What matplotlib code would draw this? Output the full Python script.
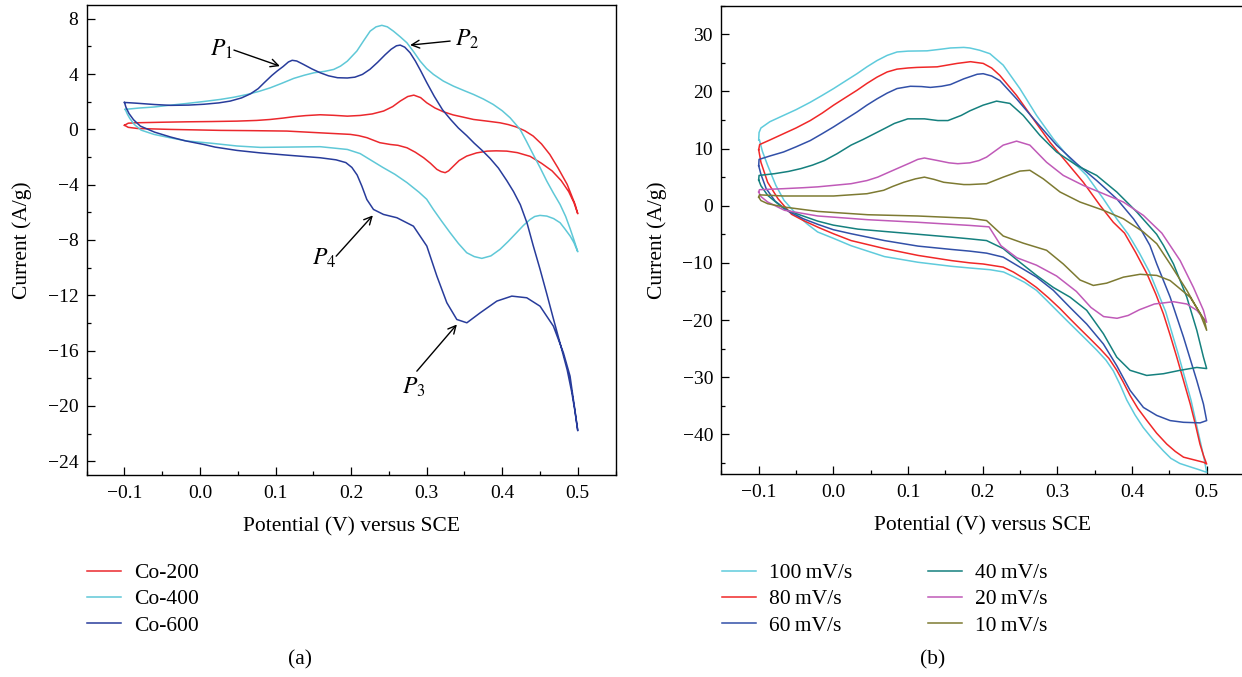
import matplotlib
matplotlib.use("Agg")
import matplotlib.pyplot as plt
from matplotlib.ticker import MultipleLocator
from matplotlib.lines import Line2D

plt.rcParams["font.family"] = ["Liberation Serif", "DejaVu Serif"]
plt.rcParams["mathtext.fontset"] = "stix"

# ---------------- panel (a): Co-200 / Co-400 / Co-600 ----------------
co200_v = [-0.100, -0.095, -0.085, -0.050, -0.017, 0.015, 0.049, 0.075, 0.093, 0.110,
           0.124, 0.140, 0.159, 0.177, 0.195, 0.212, 0.228, 0.243, 0.255, 0.265,
           0.275, 0.283, 0.292, 0.300, 0.311, 0.322, 0.335, 0.349, 0.362, 0.380,
           0.397, 0.408, 0.419, 0.430, 0.441, 0.452, 0.463, 0.474, 0.486, 0.4965, 0.500,
           0.495, 0.488, 0.478, 0.466, 0.452, 0.437, 0.420, 0.406, 0.392, 0.380,
           0.366, 0.353, 0.343, 0.3355, 0.329, 0.3245, 0.319, 0.3135, 0.305, 0.296,
           0.285, 0.274, 0.262, 0.252, 0.238, 0.228, 0.221, 0.210, 0.199, 0.160,
           0.115, 0.070, 0.027, -0.010, -0.039, -0.065, -0.083, -0.095, -0.100]
co200_i = [0.30, 0.45, 0.48, 0.52, 0.55, 0.57, 0.60, 0.65, 0.72, 0.82,
           0.92, 1.00, 1.06, 1.02, 0.96, 1.01, 1.12, 1.33, 1.65, 2.05,
           2.38, 2.48, 2.30, 1.93, 1.55, 1.28, 1.05, 0.88, 0.72, 0.60,
           0.48, 0.35, 0.17, -0.10, -0.48, -1.05, -1.81, -2.80, -3.98, -5.43, -6.10,
           -5.30, -4.50, -3.70, -3.00, -2.45, -1.95, -1.68, -1.57, -1.55, -1.57,
           -1.70, -1.93, -2.25, -2.65, -3.00, -3.13, -3.05, -2.89, -2.45, -2.05,
           -1.65, -1.33, -1.15, -1.09, -0.96, -0.75, -0.60, -0.45, -0.36, -0.25,
           -0.12, -0.09, -0.07, -0.03, 0.00, 0.04, 0.07, 0.15, 0.30]

co400_v = [-0.099, -0.080, -0.061, -0.040, -0.017, 0.005, 0.027, 0.045, 0.0625, 0.078,
           0.093, 0.108, 0.124, 0.138, 0.151, 0.165, 0.177, 0.186, 0.195, 0.2076,
           0.217, 0.2252, 0.233, 0.2407, 0.248, 0.256, 0.265, 0.2738, 0.283, 0.2914,
           0.300, 0.309, 0.322, 0.3355, 0.349, 0.362, 0.375, 0.388, 0.400, 0.4105,
           0.4237, 0.432, 0.441, 0.450, 0.459, 0.4677, 0.4766, 0.484, 0.490, 0.495, 0.500,
           0.495, 0.490, 0.483, 0.4766, 0.468, 0.459, 0.450, 0.443, 0.437, 0.428,
           0.419, 0.408, 0.397, 0.385, 0.373, 0.363, 0.353, 0.342, 0.331, 0.320,
           0.309, 0.300, 0.290, 0.274, 0.258, 0.242, 0.227, 0.212, 0.195, 0.159,
           0.115, 0.080, 0.049, 0.015, -0.017, -0.040, -0.061, -0.078, -0.087, -0.093,
           -0.096, -0.099]
co400_i = [1.45, 1.55, 1.62, 1.75, 1.88, 2.02, 2.17, 2.33, 2.53, 2.75,
           3.01, 3.33, 3.69, 3.92, 4.10, 4.20, 4.34, 4.58, 4.94, 5.67,
           6.45, 7.11, 7.42, 7.53, 7.42, 7.11, 6.70, 6.27, 5.60, 4.94,
           4.40, 3.98, 3.50, 3.13, 2.82, 2.53, 2.20, 1.81, 1.35, 0.84,
           0.00, -0.85, -1.81, -2.75, -3.74, -4.60, -5.43, -6.30, -7.20, -8.00, -8.85,
           -8.20, -7.72, -7.20, -6.75, -6.45, -6.27, -6.22, -6.30, -6.51, -6.95,
           -7.47, -8.10, -8.68, -9.15, -9.33, -9.20, -8.92, -8.25, -7.47, -6.65,
           -5.80, -5.05, -4.55, -3.85, -3.25, -2.75, -2.25, -1.75, -1.45, -1.25,
           -1.28, -1.30, -1.20, -1.00, -0.84, -0.60, -0.36, -0.05, 0.36, 0.80,
           1.09, 1.45]

co600_v = [-0.100, -0.085, -0.060, -0.039, -0.015, 0.005, 0.025, 0.040, 0.055, 0.067,
           0.077, 0.085, 0.095, 0.102, 0.110, 0.117, 0.122, 0.128, 0.137, 0.148,
           0.159, 0.170, 0.182, 0.195, 0.205, 0.215, 0.225, 0.235, 0.245, 0.253,
           0.260, 0.265, 0.271, 0.278, 0.285, 0.292, 0.300, 0.310, 0.321, 0.332,
           0.342, 0.353, 0.363, 0.374, 0.384, 0.395, 0.406, 0.415, 0.424, 0.433,
           0.441, 0.450, 0.459, 0.468, 0.477, 0.486, 0.492, 0.496, 0.500,
           0.496, 0.492, 0.4898, 0.481, 0.4677, 0.4501, 0.4325, 0.4127, 0.3929, 0.3708,
           0.3532, 0.3399, 0.3267, 0.3135, 0.3002, 0.2825, 0.2606, 0.2428, 0.2296, 0.2208,
           0.2142, 0.208, 0.201, 0.193, 0.180, 0.159, 0.115, 0.080, 0.049, 0.020,
           0.005, -0.020, -0.039, -0.060, -0.079, -0.088, -0.094, -0.098, -0.100]
co600_i = [1.95, 1.90, 1.80, 1.74, 1.76, 1.82, 1.92, 2.05, 2.28, 2.58,
           2.95, 3.38, 3.90, 4.22, 4.55, 4.88, 5.00, 4.95, 4.70, 4.38,
           4.10, 3.88, 3.74, 3.72, 3.78, 3.98, 4.35, 4.85, 5.40, 5.80,
           6.05, 6.10, 5.95, 5.55, 4.95, 4.25, 3.40, 2.40, 1.42, 0.70,
           0.10, -0.45, -1.00, -1.55, -2.10, -2.80, -3.70, -4.50, -5.45, -6.80,
           -8.40, -10.10, -11.90, -13.75, -15.55, -17.40, -19.00, -20.30, -21.80,
           -20.20, -18.70, -17.85, -16.16, -14.23, -12.79, -12.18, -12.06, -12.42, -13.27,
           -13.99, -13.75, -12.54, -10.61, -8.44, -7.00, -6.39, -6.15, -5.79, -5.07,
           -4.10, -3.30, -2.75, -2.40, -2.20, -2.05, -1.86, -1.70, -1.52, -1.28,
           -1.09, -0.82, -0.55, -0.20, 0.24, 0.70, 1.15, 1.60, 1.95]

# ---------------- panel (b): scan rates ----------------
r100_v = [-0.100, -0.0995, -0.097, -0.085, -0.0667, -0.050, -0.0309, -0.015, 0.0004, 0.016,
          0.0317, 0.045, 0.0585, 0.072, 0.0853, 0.100, 0.1255, 0.145, 0.1568, 0.1747,
          0.1828, 0.196, 0.2097, 0.2275, 0.2498, 0.2722, 0.2946, 0.317, 0.3393, 0.3617,
          0.3796, 0.395, 0.410, 0.423, 0.445, 0.462, 0.479, 0.491, 0.497, 0.500,
          0.490, 0.478, 0.464, 0.452, 0.442, 0.428, 0.415, 0.404, 0.393, 0.384,
          0.375, 0.365, 0.353, 0.340, 0.326, 0.312, 0.299, 0.286, 0.272, 0.256,
          0.241, 0.228, 0.210, 0.1828, 0.158, 0.1135, 0.0684, 0.0237, 0.000, -0.021,
          -0.035, -0.048, -0.066, -0.077, -0.088, -0.095, -0.099]
r100_i = [11.5, 12.8, 13.6, 14.7, 15.8, 16.8, 18.1, 19.3, 20.5, 21.8,
          23.1, 24.3, 25.4, 26.3, 26.9, 27.05, 27.1, 27.4, 27.6, 27.7,
          27.6, 27.2, 26.6, 24.6, 20.5, 15.8, 11.7, 8.2, 5.3, 1.2,
          -2.3, -5.0, -8.3, -11.5, -18.5, -26.0, -34.0, -41.0, -44.5, -46.65,
          -46.2, -45.7, -45.1, -44.2, -42.9, -40.9, -38.8, -36.6, -34.0, -31.3,
          -28.9, -27.0, -25.3, -23.6, -21.8, -20.0, -18.3, -16.6, -14.8, -13.4,
          -12.4, -11.6, -11.2, -10.9, -10.6, -9.9, -8.9, -7.0, -5.7, -4.6,
          -3.2, -1.7, 0.93, 3.55, 7.06, 9.5, 11.5]

r80_v = [-0.100, -0.0987, -0.085, -0.0667, -0.050, -0.0309, -0.015, 0.0004, 0.016, 0.0317,
         0.045, 0.0585, 0.072, 0.0853, 0.100, 0.1121, 0.139, 0.1658, 0.1837, 0.2007,
         0.212, 0.223, 0.2454, 0.2677, 0.2901, 0.3124, 0.3348, 0.3572, 0.375, 0.390,
         0.405, 0.420, 0.432, 0.442, 0.451, 0.460, 0.469, 0.478, 0.485, 0.491,
         0.496, 0.500,
         0.496, 0.484, 0.469, 0.458, 0.4465, 0.433, 0.420, 0.408, 0.3974, 0.388,
         0.3796, 0.369, 0.357, 0.344, 0.330, 0.317, 0.3036, 0.288, 0.272, 0.256,
         0.241, 0.2275, 0.2007, 0.1828, 0.158, 0.1135, 0.0684, 0.0237, 0.000, -0.020,
         -0.040, -0.056, -0.074, -0.088, -0.097, -0.100]
r80_i = [9.8, 10.7, 11.5, 12.6, 13.6, 14.9, 16.2, 17.6, 18.9, 20.2,
         21.4, 22.5, 23.4, 23.9, 24.1, 24.2, 24.3, 24.9, 25.2, 24.9,
         24.1, 22.8, 19.3, 15.2, 11.1, 7.6, 4.1, 0.05, -2.9, -4.8,
         -8.2, -11.9, -15.5, -18.9, -22.6, -26.5, -30.6, -34.7, -38.3, -41.7,
         -43.8, -45.2,
         -44.9, -44.5, -44.0, -43.0, -41.7, -39.8, -37.6, -35.5, -33.2, -30.8,
         -28.8, -26.7, -25.0, -23.3, -21.5, -19.8, -18.0, -16.1, -14.3, -12.8,
         -11.6, -10.75, -10.2, -10.0, -9.6, -8.7, -7.5, -6.1, -4.9, -3.8,
         -2.6, -1.5, 1.2, 4.1, 7.6, 9.8]

r60_v = [-0.100, -0.0995, -0.085, -0.0667, -0.050, -0.0309, -0.015, 0.0004, 0.016, 0.0317,
         0.045, 0.0585, 0.072, 0.0853, 0.1032, 0.118, 0.130, 0.145, 0.1568, 0.1747,
         0.1926, 0.2007, 0.212, 0.223, 0.2454, 0.2722, 0.299, 0.3259, 0.3527, 0.3796,
         0.402, 0.413, 0.424, 0.4332, 0.4511, 0.469, 0.4868, 0.4957, 0.500,
         0.4912, 0.4689, 0.4511, 0.4332, 0.4153, 0.3974, 0.3796, 0.3617, 0.3393, 0.317,
         0.2946, 0.2722, 0.2499, 0.2275, 0.2052, 0.1828, 0.158, 0.1135, 0.0684, 0.0237,
         0.000, -0.020, -0.040, -0.060, -0.078, -0.090, -0.097, -0.100]
r60_i = [7.0, 8.1, 8.7, 9.4, 10.3, 11.4, 12.6, 13.8, 15.1, 16.4,
         17.6, 18.7, 19.7, 20.5, 20.9, 20.85, 20.7, 20.9, 21.2, 22.2,
         23.0, 23.1, 22.7, 21.9, 18.7, 14.6, 10.6, 7.35, 4.4, 1.2,
         -2.3, -4.4, -6.95, -10.2, -16.0, -23.0, -30.6, -34.7, -37.6,
         -38.0, -37.9, -37.6, -36.7, -35.3, -32.3, -28.0, -24.2, -20.7, -17.8,
         -14.8, -12.5, -10.75, -9.0, -8.3, -7.95, -7.65, -7.07, -6.1, -4.9,
         -4.2, -3.3, -2.3, -1.0, 0.8, 3.0, 5.5, 7.0]

r40_v = [-0.100, -0.0995, -0.079, -0.060, -0.0433, -0.028, -0.012, 0.005, 0.0237, 0.040,
         0.055, 0.070, 0.0818, 0.0997, 0.122, 0.140, 0.1535, 0.1713, 0.1828, 0.2007,
         0.2186, 0.2364, 0.2543, 0.2767, 0.299, 0.3259, 0.3527, 0.3796, 0.4064, 0.433,
         0.4422, 0.4556, 0.4734, 0.4868, 0.4957, 0.500,
         0.4868, 0.4645, 0.4421, 0.4197, 0.3974, 0.3796, 0.3617, 0.3393, 0.317, 0.2946,
         0.2722, 0.2499, 0.2275, 0.2052, 0.1828, 0.158, 0.1135, 0.068, 0.033, 0.000,
         -0.0208, -0.045, -0.0655, -0.0879, -0.097, -0.100]
r40_i = [4.5, 5.3, 5.6, 6.0, 6.5, 7.1, 7.9, 9.1, 10.6, 11.6,
         12.6, 13.6, 14.4, 15.2, 15.2, 14.9, 14.9, 15.8, 16.6, 17.6,
         18.3, 17.9, 15.8, 12.3, 9.4, 7.06, 5.3, 2.4, -1.1, -5.0,
         -6.95, -10.2, -16.0, -21.8, -26.5, -28.5,
         -28.3, -28.8, -29.4, -29.7, -28.8, -26.5, -22.4, -18.3, -16.0, -14.3,
         -12.2, -9.9, -7.5, -6.1, -5.8, -5.5, -5.0, -4.5, -4.1, -3.4,
         -2.7, -1.6, -0.6, 1.8, 3.5, 4.5]

r20_v = [-0.100, -0.099, -0.0667, -0.040, -0.0208, 0.0237, 0.045, 0.0594, 0.075, 0.0907,
         0.103, 0.113, 0.122, 0.1398, 0.155, 0.1667, 0.1828, 0.195, 0.2052, 0.2275,
         0.2454, 0.2632, 0.2856, 0.308, 0.3348, 0.3617, 0.3885, 0.4153, 0.440, 0.451,
         0.4645, 0.4823, 0.4957, 0.500,
         0.4868, 0.4734, 0.4556, 0.430, 0.410, 0.395, 0.380, 0.362, 0.345, 0.3255,
         0.299, 0.272, 0.2457, 0.2245, 0.2085, 0.1828, 0.113, 0.0462, -0.0208, -0.0655,
         -0.0879, -0.097, -0.100]
r20_i = [2.4, 2.8, 2.98, 3.15, 3.3, 3.85, 4.4, 5.0, 5.9, 6.8,
         7.5, 8.1, 8.35, 7.9, 7.5, 7.35, 7.5, 7.9, 8.5, 10.6,
         11.3, 10.6, 7.6, 5.3, 3.55, 2.1, 0.64, -1.7, -4.8, -6.95,
         -9.6, -14.3, -18.3, -20.4,
         -18.3, -17.2, -16.8, -17.2, -18.2, -19.2, -19.7, -19.4, -17.8, -15.0,
         -12.3, -10.4, -9.1, -7.0, -3.7, -3.45, -2.9, -2.45, -1.8, -0.8,
         0.64, 1.6, 2.4]

r10_v = [-0.100, -0.099, -0.0667, 0.0004, 0.0451, 0.0674, 0.080, 0.0943, 0.110, 0.122,
         0.135, 0.1478, 0.1747, 0.1828, 0.2052, 0.2275, 0.2499, 0.2632, 0.2812, 0.3036,
         0.3304, 0.3617, 0.3885, 0.4153, 0.4332, 0.4511, 0.4734, 0.4912, 0.500,
         0.497, 0.4778, 0.4511, 0.4332, 0.4108, 0.3885, 0.3661, 0.3482, 0.3304, 0.308,
         0.2856, 0.2543, 0.2275, 0.2052, 0.1828, 0.113, 0.0462, -0.0208, -0.0655, -0.0879,
         -0.097, -0.100]
r10_i = [1.5, 1.9, 1.7, 1.7, 2.1, 2.7, 3.4, 4.1, 4.7, 5.0,
         4.6, 4.1, 3.7, 3.7, 3.85, 5.0, 6.06, 6.2, 4.7, 2.4,
         0.64, -0.8, -2.3, -4.6, -6.65, -10.2, -14.8, -18.9, -21.8,
         -20.0, -16.0, -13.1, -12.2, -12.0, -12.5, -13.55, -13.95, -13.0, -10.2,
         -7.8, -6.55, -5.3, -2.6, -2.2, -1.8, -1.58, -1.0, -0.24, 0.35,
         0.9, 1.5]

labels_a = ["Co-200", "Co-400", "Co-600"]
colors_a = ["#eb282d", "#5fc8d7", "#283c9b"]
labels_b = ["100\u2009mV/s", "80\u2009mV/s", "60\u2009mV/s",
            "40\u2009mV/s", "20\u2009mV/s", "10\u2009mV/s"]
colors_b = ["#5fcbdc", "#f02828", "#3250a8", "#15807e", "#c05ab8", "#7d7a32"]

fig = plt.figure(figsize=(12.42, 6.77), dpi=100)
ax1 = fig.add_axes([0.0698, 0.2984, 0.4258, 0.6942])
ax2 = fig.add_axes([0.5808, 0.2994, 0.4208, 0.6922])

lw = 1.1
for v, i, c in zip([co200_v, co400_v, co600_v], [co200_i, co400_i, co600_i], colors_a):
    ax1.plot(v, i, color=c, lw=lw)

for v, i, c in zip([r100_v, r80_v, r60_v, r40_v, r20_v, r10_v],
                   [r100_i, r80_i, r60_i, r40_i, r20_i, r10_i], colors_b):
    ax2.plot(v, i, color=c, lw=lw)

ax1.set_xlim(-0.15, 0.55)
ax1.set_ylim(-25, 9)
ax1.yaxis.set_major_locator(MultipleLocator(4))
ax1.yaxis.set_minor_locator(MultipleLocator(2))
ax2.set_xlim(-0.15, 0.55)
ax2.set_ylim(-47, 35)
ax2.yaxis.set_major_locator(MultipleLocator(10))
ax2.yaxis.set_minor_locator(MultipleLocator(5))

for ax in (ax1, ax2):
    ax.xaxis.set_major_locator(MultipleLocator(0.1))
    ax.xaxis.set_minor_locator(MultipleLocator(0.05))
    ax.tick_params(which="both", direction="in", top=False, right=False,
                   width=0.9, labelsize=14)
    ax.tick_params(which="major", length=5.5)
    ax.tick_params(which="minor", length=3)
    ax.tick_params(axis="x", pad=7)
    ax.tick_params(axis="y", pad=6)
    for s in ax.spines.values():
        s.set_linewidth(1.0)
    ax.set_xlabel("Potential (V) versus SCE", fontsize=15.5, labelpad=11)
    ax.set_ylabel("Current (A/g)", fontsize=15.5, labelpad=11)

# peak annotations
arrow = dict(arrowstyle="->", color="black", lw=1.0, shrinkA=0, shrinkB=0,
             mutation_scale=14)
ax1.annotate("", xy=(0.1057, 4.58), xytext=(0.0449, 5.74), arrowprops=arrow)
ax1.text(0.029, 5.8, r"$P_1$", fontsize=17, ha="center", va="center")
ax1.annotate("", xy=(0.2781, 6.10), xytext=(0.3311, 6.39), arrowprops=arrow)
ax1.text(0.3532, 6.51, r"$P_2$", fontsize=17, ha="center", va="center")
ax1.annotate("", xy=(0.2288, -6.22), xytext=(0.1802, -9.17), arrowprops=arrow)
ax1.text(0.1644, -9.33, r"$P_4$", fontsize=17, ha="center", va="center")
ax1.annotate("", xy=(0.340, -14.11), xytext=(0.287, -17.49), arrowprops=arrow)
ax1.text(0.2825, -18.63, r"$P_3$", fontsize=17, ha="center", va="center")

# legends below the panels
leg_kw = dict(loc="upper left", frameon=False, fontsize=15.5, handlelength=1.6,
              handletextpad=0.6, labelspacing=0.28, borderpad=0, borderaxespad=0)
h_a = [Line2D([], [], color=c, lw=lw) for c in colors_a]
fig.legend(h_a, labels_a, bbox_to_anchor=(0.0700, 0.168), **leg_kw)
h_b = [Line2D([], [], color=c, lw=lw) for c in colors_b]
fig.legend(h_b, labels_b, bbox_to_anchor=(0.5811, 0.168), ncol=2,
           columnspacing=3.5, **leg_kw)

fig.text(300 / 1242, 1 - 660 / 677, "(a)", fontsize=15.5, ha="center", va="center")
fig.text(933 / 1242, 1 - 660 / 677, "(b)", fontsize=15.5, ha="center", va="center")

fig.savefig("out.png", dpi=100)
